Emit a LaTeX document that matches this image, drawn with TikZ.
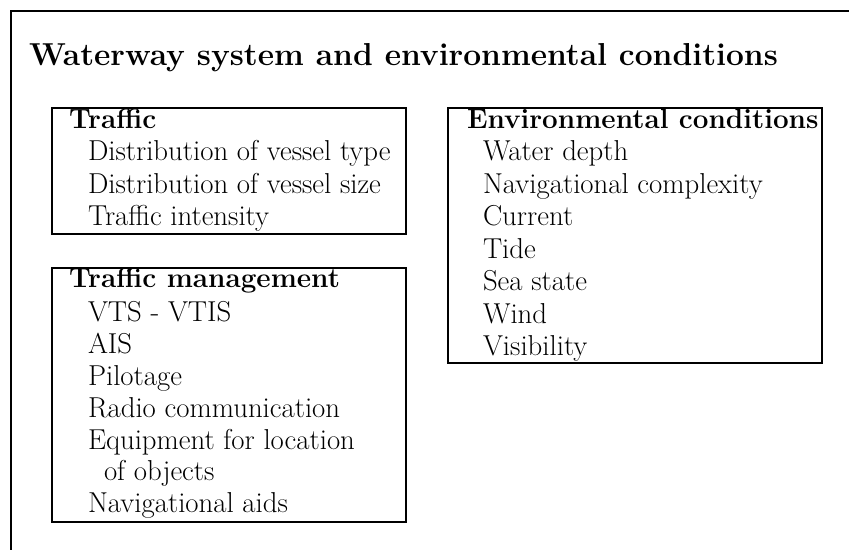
\documentclass[tikz,border=0pt]{standalone}
\usepackage{fontspec}

\tikzset{every picture/.style={line width=1.5pt}}
\tikzset{txt/.style={anchor=base west,inner sep=0pt,font=\fontsize{21.6}{26}\selectfont},
  hdr/.style={txt,font=\fontsize{20.9}{25}\selectfont\bfseries}}

\begin{document}
\begin{tikzpicture}[x=0.75pt,y=0.75pt,yscale=-1,xscale=1]
\useasboundingbox (0,0) rectangle (849,550);

%Straight Lines
\draw    (849,11) -- (11,11) -- (11,550) ;
%Shape: Rectangle
\draw   (52,108) rectangle (406,234) ;
%Shape: Rectangle
\draw   (52,268) rectangle (406,522) ;
%Shape: Rectangle
\draw   (448,108) rectangle (822,363) ;

% Text Node
\node [anchor=base west,inner sep=0pt,font=\fontsize{23.8}{28}\selectfont\bfseries] (title) at (28,65) {Waterway system and environmental conditions};

% Text Node
\node [hdr] (traffic) at (68,128) {Traffic};
% Text Node
\node [txt] (vtype) at (87,160.5) {Distribution of vessel type};
% Text Node
\node [txt] (vsize) at (87,193) {Distribution of vessel size};
% Text Node
\node [txt] (intens) at (87,225.5) {Traffic intensity};

% Text Node
\node [hdr] (mgmt) at (68,287) {Traffic management};
% Text Node
\node [txt] (vts) at (87,321) {VTS - VTIS};
% Text Node
\node [txt] (ais) at (87,353) {AIS};
% Text Node
\node [txt] (pilot) at (87,385) {Pilotage};
% Text Node
\node [txt] (radio) at (87,417) {Radio communication};
% Text Node
\node [txt] (equip) at (87,449) {Equipment for location};
% Text Node
\node [txt] (objects) at (103,480) {of objects};
% Text Node
\node [txt] (navaids) at (87,512) {Navigational aids};

% Text Node
\node [hdr] (env) at (466,128) {Environmental conditions};
% Text Node
\node [txt] (depth) at (482,160.5) {Water depth};
% Text Node
\node [txt] (complex) at (482,193) {Navigational complexity};
% Text Node
\node [txt] (current) at (482,225.5) {Current};
% Text Node
\node [txt] (tide) at (482,258) {Tide};
% Text Node
\node [txt] (sea) at (482,290.5) {Sea state};
% Text Node
\node [txt] (wind) at (482,323) {Wind};
% Text Node
\node [txt] (visib) at (482,355.5) {Visibility};
\end{tikzpicture}
\end{document}
